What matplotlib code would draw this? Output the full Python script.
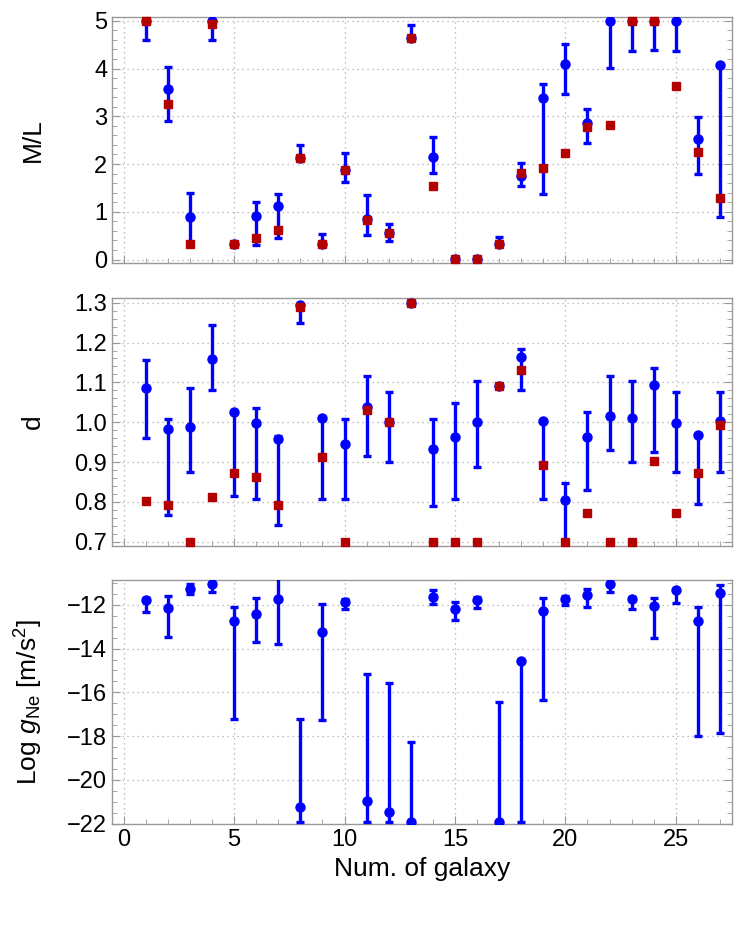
import matplotlib
matplotlib.use("Agg")
import matplotlib.pyplot as plt
from matplotlib.ticker import MultipleLocator
import numpy as np

galaxy = list(range(1, 28))

# M/L: best value (blue), error range, and red squares
ml = [5.0, 3.57, 0.90, 5.0, 0.32, 0.91, 1.12, 2.13, 0.32, 1.88, 0.84, 0.55, 4.63, 2.15,
      0.01, 0.01, 0.32, 1.75, 3.39, 4.09, 2.85, 5.0, 5.0, 5.0, 5.0, 2.52, 4.07]
ml_lo = [4.60, 2.90, 0.32, 4.60, 0.32, 0.31, 0.45, 2.10, 0.32, 1.62, 0.52, 0.39, 4.60, 1.81,
         0.01, 0.01, 0.32, 1.53, 1.37, 3.47, 2.45, 4.02, 4.37, 4.39, 4.37, 1.79, 0.89]
ml_hi = [5.0, 4.03, 1.39, 5.0, 0.32, 1.20, 1.37, 2.40, 0.54, 2.23, 1.35, 0.75, 4.91, 2.57,
         0.01, 0.01, 0.47, 2.02, 3.67, 4.51, 3.15, 5.0, 5.0, 5.0, 5.0, 2.98, 4.07]
ml_red = [5.0, 3.26, 0.32, 4.94, 0.32, 0.45, 0.61, 2.13, 0.32, 1.88, 0.83, 0.55, 4.63, 1.55,
          0.01, 0.01, 0.32, 1.81, 1.92, 2.23, 2.77, 2.82, 5.0, 5.0, 3.63, 2.25, 1.28]

# d
d = [1.085, 0.984, 0.987, 1.159, 1.026, 0.999, 0.957, 1.294, 1.010, 0.946, 1.037, 1.001, 1.30, 0.932,
     0.964, 1.0, 1.091, 1.164, 1.003, 0.805, 0.963, 1.016, 1.011, 1.093, 0.999, 0.969, 1.004]
d_lo = [0.961, 0.766, 0.874, 1.081, 0.815, 0.806, 0.741, 1.248, 0.806, 0.806, 0.916, 0.901, 1.30, 0.790,
        0.806, 0.888, 1.091, 1.082, 0.806, 0.703, 0.830, 0.929, 0.900, 0.925, 0.874, 0.795, 0.874]
d_hi = [1.156, 1.007, 1.087, 1.245, 1.026, 1.035, 0.966, 1.294, 1.010, 1.007, 1.116, 1.075, 1.30, 1.007,
        1.048, 1.103, 1.091, 1.183, 1.003, 0.848, 1.026, 1.116, 1.103, 1.136, 1.075, 0.969, 1.075]
d_red = [0.802, 0.792, 0.70, 0.812, 0.872, 0.863, 0.792, 1.290, 0.912, 0.70, 1.031, 1.001, 1.30, 0.70,
         0.70, 0.70, 1.091, 1.132, 0.892, 0.70, 0.773, 0.70, 0.70, 0.902, 0.773, 0.872, 0.993]

# Log g_Ne
g = [-11.77, -12.15, -11.28, -11.04, -12.72, -12.43, -11.74, -21.24, -13.22, -11.88, -20.98, -21.47,
     -21.95, -11.62, -12.18, -11.80, -21.95, -14.56, -12.26, -11.74, -11.57, -11.05, -11.73, -12.05,
     -11.34, -12.72, -11.45]
g_lo = [-12.31, -13.48, -11.50, -11.39, -17.24, -13.71, -13.80, -21.95, -17.27, -12.17, -21.95, -21.95,
        -21.95, -11.95, -12.69, -12.15, -21.95, -21.95, -16.35, -12.02, -12.08, -11.42, -12.18, -13.51,
        -11.92, -18.0, -17.88]
g_hi = [-11.68, -11.59, -11.04, -10.98, -12.08, -11.68, -10.5, -17.21, -11.97, -11.71, -15.16, -15.56,
        -18.26, -11.34, -11.88, -11.62, -16.44, -14.56, -11.68, -11.59, -11.27, -10.95, -11.62, -11.69,
        -11.27, -12.08, -11.11]

plt.rcParams['font.family'] = ['Liberation Sans', 'DejaVu Sans']
plt.rcParams['mathtext.fontset'] = 'custom'
plt.rcParams['mathtext.rm'] = 'Liberation Sans'
plt.rcParams['mathtext.it'] = 'Liberation Sans:italic'

BLUE = '#0000ff'
RED = '#b30000'
SPINE = '#999999'


def panel(ax, val, lo, hi, red=None):
    val = np.array(val); lo = np.array(lo); hi = np.array(hi)
    yerr = [val - lo, hi - val]
    ax.errorbar(galaxy, val, yerr=yerr, fmt='o', color=BLUE, ms=6.5, lw=2.4,
                capsize=3, capthick=2.4, zorder=3, clip_on=True)
    if red is not None:
        ax.plot(galaxy, red, 's', color=RED, ms=5.5, zorder=4, clip_on=False)
    ax.set_xlim(-0.53, 27.55)
    ax.xaxis.set_major_locator(MultipleLocator(5))
    ax.xaxis.set_minor_locator(MultipleLocator(1))
    ax.grid(True, which='major', linestyle=(0, (1, 3)), color='#aaaaaa', linewidth=0.9)
    ax.tick_params(which='both', direction='in', color=SPINE, labelsize=17,
                   left=True, right=True, bottom=True, top=False)
    ax.tick_params(which='major', length=6)
    ax.tick_params(which='minor', length=3.5)
    for s in ax.spines.values():
        s.set_color(SPINE)
        s.set_linewidth(1.0)
    ax.set_axisbelow(True)


fig = plt.figure(figsize=(7.47, 9.43), dpi=100)
ax1 = fig.add_axes([0.150, 0.721, 0.830, 0.261])
ax2 = fig.add_axes([0.150, 0.421, 0.830, 0.263])
ax3 = fig.add_axes([0.150, 0.126, 0.830, 0.259])

panel(ax1, ml, ml_lo, ml_hi, ml_red)
ax1.set_ylim(-0.075, 5.08)
ax1.yaxis.set_major_locator(MultipleLocator(1))
ax1.yaxis.set_minor_locator(MultipleLocator(0.2))
ax1.set_ylabel('M/L', fontsize=19)
ax1.tick_params(labelbottom=False)

panel(ax2, d, d_lo, d_hi, d_red)
ax2.set_ylim(0.689, 1.312)
ax2.yaxis.set_major_locator(MultipleLocator(0.1))
ax2.yaxis.set_minor_locator(MultipleLocator(0.02))
ax2.set_ylabel('d', fontsize=19)
ax2.tick_params(labelbottom=False)

panel(ax3, g, g_lo, g_hi)
ax3.set_ylim(-22.03, -10.86)
ax3.yaxis.set_major_locator(MultipleLocator(2))
ax3.yaxis.set_minor_locator(MultipleLocator(0.5))
ax3.set_ylabel(r'Log $g_{\mathrm{Ne}}$ [m/s$^2$]', fontsize=19)
ax3.set_xlabel('Num. of galaxy', fontsize=19)

for ax in (ax1, ax2, ax3):
    ax.yaxis.set_label_coords(-0.108, 0.5)

fig.savefig('out.png', dpi=100)
